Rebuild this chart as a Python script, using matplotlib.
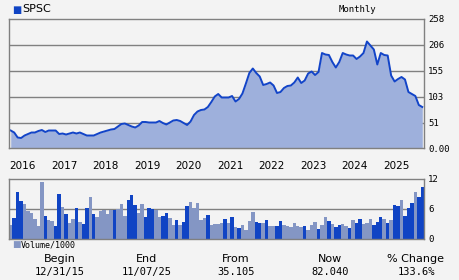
import numpy as np
import matplotlib
matplotlib.use("Agg")
import matplotlib.pyplot as plt

# monthly closes, Dec 2015 .. Nov 2025
price = [35, 31, 21, 20, 25, 28, 31, 31, 34, 36,
         32, 35, 35, 35, 28, 29, 27, 29, 31, 29,
         31, 28, 25, 25, 25, 28, 31, 33, 35, 37,
         38, 43, 48, 49, 46, 43, 41, 45, 52, 52,
         51, 51, 51, 54, 50, 47, 51, 55, 56, 54,
         50, 46, 53, 66, 73, 76, 77, 82, 92, 103,
         108, 101, 101, 101, 104, 93, 98, 109, 129, 150,
         159, 150, 143, 126, 128, 131, 125, 110, 112, 120,
         124, 125, 131, 141, 130, 135, 149, 153, 146, 152,
         190, 187, 186, 172, 161, 172, 190, 187, 185, 185,
         178, 183, 190, 213, 205, 197, 167, 190, 186, 185,
         145, 133, 138, 142, 137, 112, 108, 104, 86, 82]

# volume in thousands
volume = [2.8, 4.2, 9.4, 7.6, 7.0, 5.6, 5.2, 4.0, 2.6, 11.4,
          4.6, 3.8, 3.6, 2.6, 9.0, 6.4, 5.0, 3.2, 4.0, 6.2,
          3.4, 3.0, 6.2, 8.4, 5.0, 4.4, 5.6, 5.8, 5.0, 5.8,
          5.8, 6.0, 7.0, 4.6, 7.8, 8.8, 6.8, 5.2, 7.0, 4.4,
          6.2, 6.0, 5.8, 4.4, 4.6, 5.2, 4.2, 2.8, 3.8, 2.8,
          3.4, 6.6, 7.4, 6.2, 7.2, 3.8, 4.2, 4.8, 2.8, 3.0,
          3.1, 3.2, 4.0, 3.2, 4.4, 2.4, 2.2, 2.8, 1.8, 3.6,
          5.4, 3.4, 3.2, 3.2, 3.8, 2.6, 2.6, 2.6, 3.6, 2.8,
          2.6, 2.4, 3.2, 2.6, 2.4, 2.6, 1.8, 2.8, 3.4, 2.0,
          2.8, 4.4, 3.6, 3.0, 2.4, 2.8, 3.0, 2.6, 2.2, 3.8,
          3.2, 4.0, 3.0, 3.2, 4.0, 2.8, 3.4, 4.4, 4.0, 3.2,
          3.8, 6.8, 6.6, 7.8, 4.6, 6.2, 7.2, 9.4, 8.4, 10.4]

# 1 = dark bar, 0 = light bar
dark = [0, 1, 1, 1, 0, 0, 0, 0, 0, 0,
        1, 0, 0, 1, 1, 0, 1, 0, 0, 1,
        0, 1, 1, 0, 1, 0, 0, 0, 0, 0,
        1, 0, 0, 0, 1, 1, 1, 0, 0, 1,
        1, 1, 0, 0, 1, 1, 0, 0, 1, 0,
        1, 1, 0, 0, 0, 0, 0, 1, 0, 0,
        0, 0, 1, 0, 1, 0, 1, 0, 0, 0,
        0, 1, 1, 0, 1, 0, 0, 1, 1, 0,
        0, 0, 0, 0, 0, 1, 0, 0, 0, 1,
        0, 0, 1, 0, 1, 1, 0, 0, 1, 0,
        1, 1, 0, 0, 0, 1, 1, 1, 0, 1,
        0, 1, 1, 0, 1, 1, 1, 0, 1, 1]

years = ["2016", "2017", "2018", "2019", "2020",
         "2021", "2022", "2023", "2024", "2025"]
price_ticks = [0, 51, 103, 155, 206, 258]
price_labels = ["0.00", "51", "103", "155", "206", "258"]
vol_ticks = [0, 6, 12]

summary_heads = ["Begin", "End", "From", "Now", "% Change"]
summary_vals = ["12/31/15", "11/07/25", "35.105", "82.040", "133.6%"]

BG = "#f3f3f3"
GRID = "#808080"
LINE = "#1244c8"
FILL = "#9eb0dc"
DARK = "#1044c4"
LIGHT = "#8496c4"

W, H = 460, 280
fig = plt.figure(figsize=(W / 100, H / 100), dpi=100, facecolor=BG)

def box(l, t, r, b):
    return [l / W, 1 - b / H, (r - l) / W, (b - t) / H]

x = np.arange(len(price))

ax = fig.add_axes(box(9, 19, 424, 148), facecolor=BG)
ax.fill_between(x, price, 0, color=FILL, lw=0)
ax.plot(x, price, color=LINE, lw=1.4)
ax.set_xlim(-0.5, len(price) - 0.5)
ax.set_ylim(0, 258)
for v in price_ticks[1:-1]:
    ax.axhline(v, color=GRID, lw=1, zorder=0)
ax.set_xticks([])
ax.set_yticks(price_ticks)
ax.set_yticklabels(price_labels)
ax.yaxis.tick_right()
ax.tick_params(axis="y", length=0, pad=3, labelsize=6.5, colors="black")
for lab in ax.get_yticklabels():
    lab.set_family("DejaVu Sans Mono")
for s in ax.spines.values():
    s.set_color(GRID)
    s.set_linewidth(1)

# year labels under price panel
for k, yr in enumerate(years):
    ax.text(12 * k - 0.3, -0.14, yr, transform=ax.get_xaxis_transform(),
            ha="left", va="center", fontsize=7.5, family="DejaVu Sans")

fig.text(12.5 / W, 1 - 9.5 / H, "\u25a0", color=DARK, fontsize=7, va="center")
fig.text(22 / W, 1 - 9.5 / H, "SPSC", fontsize=8, va="center")
fig.text(357 / W, 1 - 9 / H, "Monthly", fontsize=6.5, va="center", ha="center",
         family="DejaVu Sans Mono")

# volume panel
av = fig.add_axes(box(9, 179, 424, 239), facecolor=BG)
av.axhline(6, color=GRID, lw=1, zorder=0)
av.bar(x, volume, width=1.0, color=[DARK if d else LIGHT for d in dark], lw=0)
av.set_xlim(-0.5, len(volume) - 0.5)
av.set_ylim(0, 12)
av.set_xticks([])
av.set_yticks(vol_ticks)
av.yaxis.tick_right()
av.tick_params(axis="y", length=0, pad=3, labelsize=6.5)
for lab in av.get_yticklabels():
    lab.set_family("DejaVu Sans Mono")
for s in av.spines.values():
    s.set_color(GRID)
    s.set_linewidth(1)

fig.text(12.5 / W, 1 - 245 / H, "\u25a0", color=LIGHT, fontsize=6.5, va="center")
fig.text(21 / W, 1 - 245 / H, "Volume/1000", fontsize=6, va="center",
         family="DejaVu Sans Mono")

# summary row
centers = [60, 147, 236, 330, 416]
for cx, head, val in zip(centers, summary_heads, summary_vals):
    fig.text(cx / W, 1 - 259 / H, head, ha="center", va="center", fontsize=8,
             family="DejaVu Sans")
    fig.text(cx / W, 1 - 272 / H, val, ha="center", va="center", fontsize=7.5,
             family="DejaVu Sans Mono")

fig.savefig("out.png", dpi=100, facecolor=BG)
